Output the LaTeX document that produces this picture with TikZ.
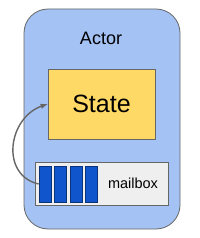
\documentclass[tikz,border=0pt]{standalone}
\usepackage{fontspec}
\setmainfont{Liberation Sans}
\definecolor{actorblue}{HTML}{A4C2F4}
\definecolor{stateyellow}{HTML}{FFD966}
\definecolor{boxgray}{HTML}{EFEFEF}
\definecolor{barblue}{HTML}{1155CC}
\definecolor{edgegray}{HTML}{666666}
\begin{document}
\begin{tikzpicture}[x=1pt, y=-1pt,
    kutu/.style={draw=edgegray, line width=0.8pt, inner sep=0pt},
    cubuk/.style={draw=barblue!60!black, fill=barblue, line width=0.8pt,
      minimum width=12pt, minimum height=36pt, inner sep=0pt}]
  \useasboundingbox (0,0) rectangle (200,238);

  % --- aktor kabugu ---
  \node[kutu, fill=actorblue, rounded corners=24pt,
    minimum width=156pt, minimum height=220pt] (actor) at (102,119) {};
  \node[font=\fontsize{18}{20}\selectfont] (actorlabel) at (101,38) {Actor};

  % --- durum ---
  \node[kutu, fill=stateyellow, minimum width=107pt, minimum height=70pt,
    font=\fontsize{25}{28}\selectfont] (state) at (101.5,104) {State};

  % --- posta kutusu ---
  \node[kutu, fill=boxgray, minimum width=133pt, minimum height=43pt]
    (mailbox) at (101.5,183.5) {};
  \foreach \i in {1,...,4}
    \node[cubuk] (bar\i) at ({45+15.6*(\i-1)},184) {};
  \node[font=\fontsize{14.5}{16}\selectfont] (mailboxlabel) at (133,183) {mailbox};

  % --- mesaj oku ---
  \draw[-latex, edgegray, line width=1.4pt] (bar1.west)
    .. controls (0,175) and (8,118) .. (state.west);
\end{tikzpicture}
\end{document}
